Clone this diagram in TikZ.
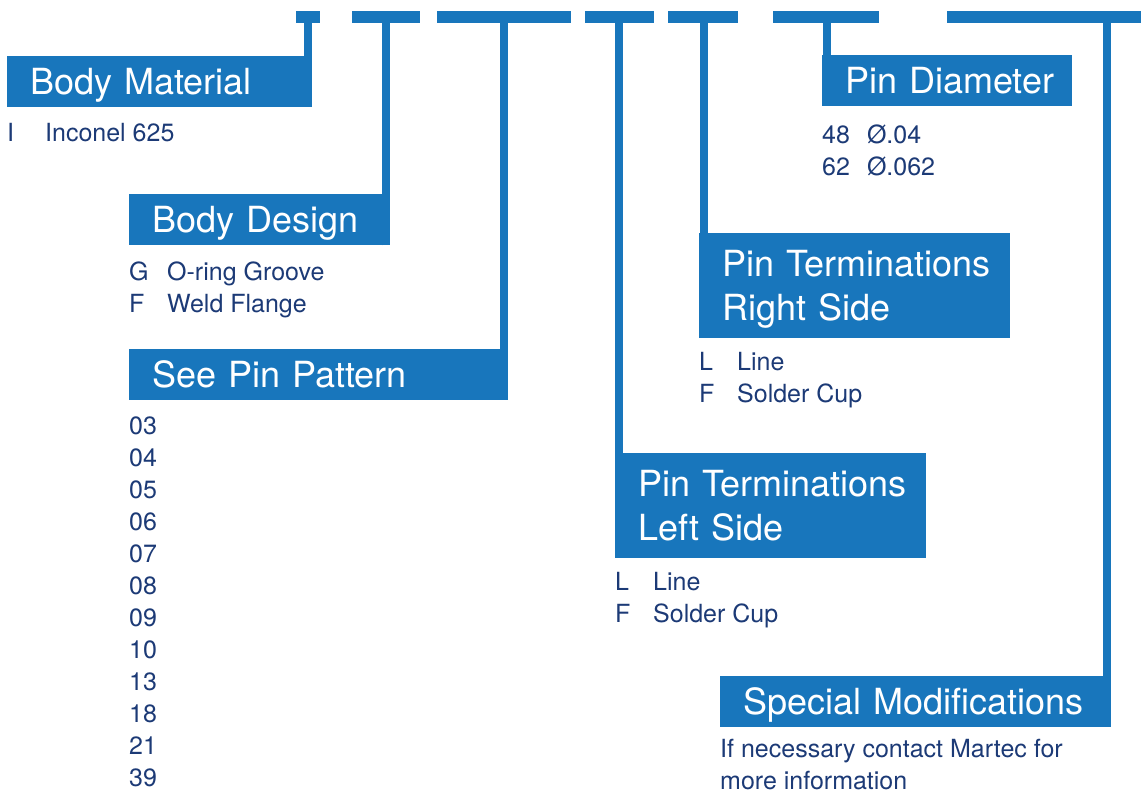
\documentclass[tikz,border=0pt]{standalone}
\usepackage{fontspec}
\setmainfont{TeX Gyre Heros}
\usetikzlibrary{positioning}
\definecolor{mblue}{RGB}{24,118,188}
\definecolor{mnavy}{RGB}{28,58,118}
\newcommand{\code}[2]{\makebox[38pt][l]{#1}#2}

\begin{document}
\begin{tikzpicture}[x=1pt, y=-1pt, node distance=16pt,
    bar/.style={fill=mblue, inner sep=0pt, minimum height=12pt, anchor=north west},
    head/.style={fill=mblue, text=white, anchor=north west, inner xsep=23pt, inner ysep=0pt,
      align=left, font=\fontsize{36}{44}\selectfont, minimum height=51pt,
      text height=26pt, text depth=0pt},
    twoline/.style={minimum height=105pt, text depth=44pt},
    items/.style={text=mnavy, inner sep=0pt, align=left, anchor=north west,
      font=\fontsize{25}{32}\selectfont},
    stem/.style={draw=mblue, line width=8pt}]
  \useasboundingbox (0,0) rectangle (1141,793);

  % code bars along the top
  \node[bar, minimum width=24pt]  (b1) at (296,11) {};
  \node[bar, minimum width=68pt]  (b2) at (352,11) {};
  \node[bar, minimum width=134pt] (b3) at (437,11) {};
  \node[bar, minimum width=69pt]  (b4) at (585,11) {};
  \node[bar, minimum width=70pt]  (b5) at (668,11) {};
  \node[bar, minimum width=106pt] (b6) at (773,11) {};
  \node[bar, minimum width=194pt] (b7) at (947,11) {};

  % headings
  \node[head, text width=259pt] (bm) at (7,56) {\mbox{Body Material}};
  \node[head, text width=215pt] (bd) at (129,194) {\mbox{Body Design}};
  \node[head, text width=333pt] (pp) at (129,349) {\mbox{See Pin Pattern}};
  \node[head, twoline, text width=265pt] (tl) at (615,453)
    {\mbox{Pin Terminations}\\\mbox{Left Side}};
  \node[head, twoline, text width=265pt] (tr) at (699,233)
    {\mbox{Pin Terminations}\\\mbox{Right Side}};
  \node[head, text width=204pt] (pd) at (822,55) {\mbox{Pin Diameter}};
  \node[head, text width=345pt] (sm) at (720,676) {\mbox{Special Modifications}};

  % options under each heading
  \node[below=16pt of bm.south west, items] (bmlist) {\code{I}{Inconel 625}};
  \node[below=16pt of bd.south west, items] (bdlist) {\code{G}{O-ring Groove}\\\code{F}{Weld Flange}};
  \node[below=16pt of pp.south west, items] (pplist)
    {03\\04\\05\\06\\07\\08\\09\\10\\13\\18\\21\\39};
  \node[below=14pt of tl.south west, items] (tllist) {\code{L}{Line}\\\code{F}{Solder Cup}};
  \node[below=14pt of tr.south west, items] (trlist) {\code{L}{Line}\\\code{F}{Solder Cup}};
  \node[below=18pt of pd.south west, items] (pdlist)
    {48\hspace{17pt}Ø.04\\62\hspace{17pt}Ø.062};
  \node[below=12pt of sm.south west, items] (smlist)
    {If necessary contact Martec for\\more information};

  % stems from bars to headings
  \draw[stem] ([xshift=-4pt]bm.north east) -- ([xshift=-4pt]bm.north east |- b1.south);
  \draw[stem] ([xshift=-4pt]bd.south east) -- ([xshift=-4pt]bd.north east |- b2.south);
  \draw[stem] ([xshift=-4pt]pp.north east) -- ([xshift=-4pt]pp.north east |- b3.south);
  \draw[stem] ([xshift=4pt]tl.north west) -- ([xshift=4pt]tl.north west |- b4.south);
  \draw[stem] ([xshift=5pt]tr.north west) -- ([xshift=5pt]tr.north west |- b5.south);
  \draw[stem] ([xshift=5pt]pd.north west) -- ([xshift=5pt]pd.north west |- b6.south);
  \draw[stem] ([xshift=-4pt]sm.north east) -- ([xshift=-4pt]sm.north east |- b7.south);
\end{tikzpicture}
\end{document}
